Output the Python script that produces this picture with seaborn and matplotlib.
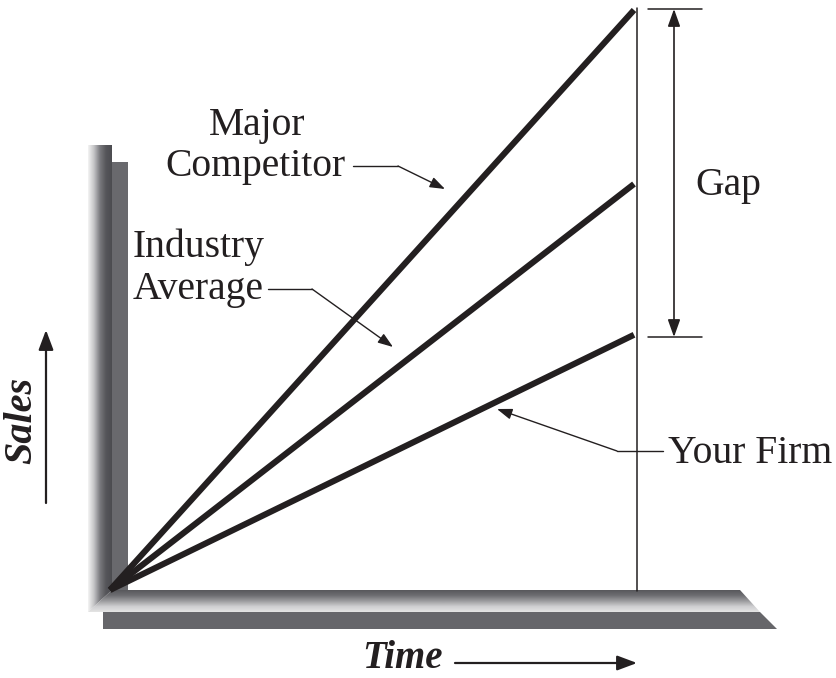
import matplotlib
matplotlib.use("Agg")
import matplotlib.pyplot as plt
from matplotlib.colors import LinearSegmentedColormap
from matplotlib.patches import Polygon, Rectangle
import seaborn as sns
import numpy as np
import pandas as pd

#%% Chart data
time = [0, 10]
major_competitor = [0, 100]
industry_average = [0, 70]
your_firm = [0, 44]
series_names = ["Major Competitor", "Industry Average", "Your Firm"]

#%% Layout (pixels)
W, H = 836, 678
X0, Y0 = 110, 590   # where the lines start
X1, Y1 = 634, 10    # end of time axis / top of major competitor
INK = "#231f20"
FS = 28.5

sns.set_style("white")
plt.rcParams["font.family"] = ["Liberation Serif", "DejaVu Serif"]

fig = plt.figure(figsize=(W / 100, H / 100), dpi=100)

# background axes in pixel coordinates for the 3D axis bars and labels
bg = fig.add_axes([0, 0, 1, 1], zorder=0)

bar_cmap = LinearSegmentedColormap.from_list(
    "bar", ["#f4f4f4", "#c4c4c6", "#7a7a7e", "#55555a", "#4c4c50"])
floor_cmap = LinearSegmentedColormap.from_list(
    "floor", ["#57575b", "#6e6e72", "#9c9c9f", "#cfcfd1", "#e4e4e4"])

# shadows
bg.add_patch(Rectangle((112, 162), 16, 428, facecolor="#69696d", edgecolor="none", zorder=1))
bg.add_patch(Polygon([(103, 612), (760, 612), (777, 629), (103, 629)],
                     closed=True, facecolor="#66666a", edgecolor="none", zorder=1))

# vertical bar with gradient
grad_h = np.linspace(0, 1, 256).reshape(1, -1)
im = bg.imshow(grad_h, cmap=bar_cmap, extent=(88, 112, 612, 145), aspect="auto", zorder=2)
vbar = Polygon([(88, 145), (112, 145), (112, 590), (88, 612)], closed=True,
               facecolor="none", edgecolor="none")
bg.add_patch(vbar)
im.set_clip_path(vbar)

# floor with gradient
grad_v = np.linspace(0, 1, 256).reshape(-1, 1)
im2 = bg.imshow(grad_v, cmap=floor_cmap, extent=(88, 760, 612, 590), aspect="auto", zorder=2)
floor = Polygon([(112, 590), (740, 590), (760, 612), (88, 612)], closed=True,
                facecolor="none", edgecolor="none")
bg.add_patch(floor)
im2.set_clip_path(floor)

# vertical reference line at end of time
bg.plot([637, 637], [8, 591], color=INK, lw=1.1, zorder=3)

# Gap arrow
bg.plot([648, 702], [9, 9], color=INK, lw=1.1)
bg.plot([648, 702], [337, 337], color=INK, lw=1.1)
bg.annotate("", xy=(674, 9), xytext=(674, 337),
            arrowprops=dict(arrowstyle="<|-|>,head_length=0.7,head_width=0.25",
                            mutation_scale=15, lw=1.2, color=INK, shrinkA=0, shrinkB=0))
bg.text(695, 195, "Gap", ha="left", va="baseline", fontsize=FS, color=INK)

# labels with leaders
leader = dict(arrowstyle="-|>,head_length=0.7,head_width=0.25", mutation_scale=13,
              lw=1.0, color=INK, shrinkA=0, shrinkB=0)

bg.text(257, 135, "Major", ha="center", va="baseline", fontsize=FS, color=INK)
bg.text(255, 176, "Competitor", ha="center", va="baseline", fontsize=FS, color=INK)
bg.plot([353, 398], [166, 166], color=INK, lw=1.0)
bg.annotate("", xy=(445, 189), xytext=(398, 166), arrowprops=leader)

bg.text(133, 257, "Industry", ha="left", va="baseline", fontsize=FS, color=INK)
bg.text(133, 299, "Average", ha="left", va="baseline", fontsize=FS, color=INK)
bg.plot([268, 312], [289, 289], color=INK, lw=1.0)
bg.annotate("", xy=(393, 347), xytext=(312, 289), arrowprops=leader)

bg.text(668, 463, "Your Firm", ha="left", va="baseline", fontsize=FS, color=INK)
bg.plot([617, 663], [451, 451], color=INK, lw=1.0)
bg.annotate("", xy=(497, 409), xytext=(617, 451), arrowprops=leader)

# axis titles
bg.text(22, 420, "Sales", rotation=90, ha="center", va="center", fontsize=29,
        fontweight="bold", fontstyle="italic", color=INK)
bg.annotate("", xy=(46, 330), xytext=(46, 503),
            arrowprops=dict(arrowstyle="-|>,head_length=0.8,head_width=0.3",
                            mutation_scale=15, lw=1.6, color=INK, shrinkA=0, shrinkB=0))
bg.text(362, 668, "Time", ha="left", va="baseline", fontsize=28,
        fontweight="bold", fontstyle="italic", color=INK)
bg.annotate("", xy=(637, 663), xytext=(455, 663),
            arrowprops=dict(arrowstyle="-|>,head_length=0.8,head_width=0.3",
                            mutation_scale=15, lw=1.6, color=INK, shrinkA=0, shrinkB=0))

bg.set_xlim(0, W)
bg.set_ylim(H, 0)
bg.axis("off")

#%% Data axes: sales lines
ax = fig.add_axes([0, 0, 1, 1], zorder=2)
ax.patch.set_alpha(0)

df = pd.DataFrame({
    "time": time * 3,
    "sales": major_competitor + industry_average + your_firm,
    "series": [s for s in series_names for _ in time],
})
sns.lineplot(data=df, x="time", y="sales", hue="series", hue_order=series_names,
             palette=[INK] * 3, lw=4.4, legend=False, ax=ax, solid_capstyle="butt")

# scale so that time/sales map to the pixel frame
sx = (X1 - X0) / (max(time) - min(time))
sy = (Y0 - Y1) / max(major_competitor)
ax.set_xlim(min(time) - X0 / sx, min(time) + (W - X0) / sx)
ax.set_ylim(-(H - Y0) / sy, Y0 / sy)
ax.axis("off")

fig.savefig("out.png", dpi=100)
